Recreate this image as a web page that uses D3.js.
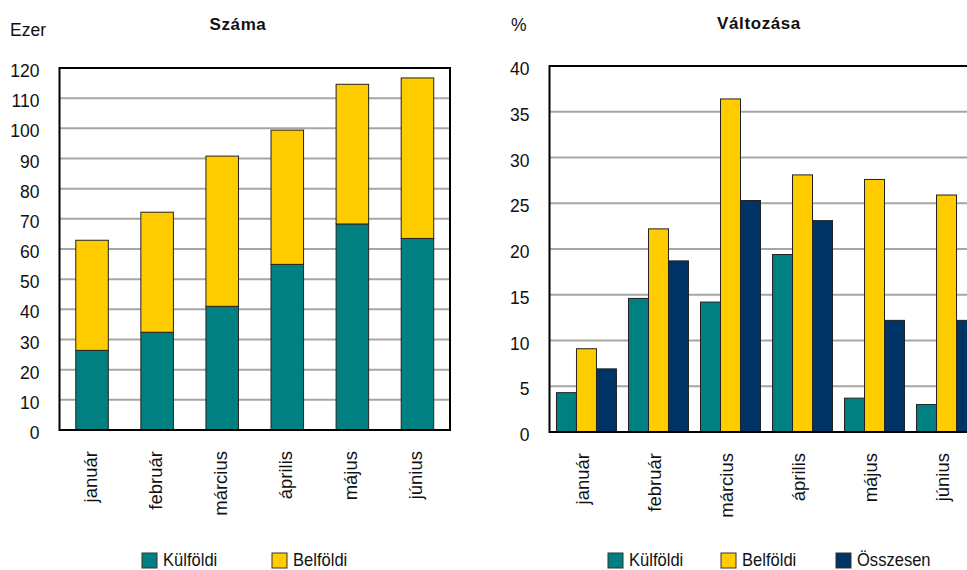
<!DOCTYPE html>
<html lang="hu">
<meta charset="utf-8"/>
<head>
<style>
  body { margin: 0; background: #fff; }
  svg text { font-family: "Liberation Sans", Arial, sans-serif; fill: #111; }
</style>
</head>
<body>
<svg id="container" width="967" height="570"></svg>

<script src="https://d3js.org/d3.v7.min.js"></script>
<script>
// data
let months = ["január", "február", "március", "április", "május", "június"]
let kulfoldiSzama = [26.4, 32.4, 41.0, 54.9, 68.3, 63.5]     // ezer
let belfoldiSzama = [36.5, 39.8, 49.8, 44.5, 46.3, 53.2]     // ezer
let kulfoldiValt = [4.3, 14.6, 14.2, 19.4, 3.7, 3.0]          // %
let belfoldiValt = [9.1, 22.2, 36.4, 28.1, 27.6, 25.9]        // %
let osszesenValt = [6.9, 18.7, 25.3, 23.1, 12.2, 12.2]        // %
let leftTicks = [0, 10, 20, 30, 40, 50, 60, 70, 80, 90, 100, 110, 120]
let rightTicks = [0, 5, 10, 15, 20, 25, 30, 35, 40]
let seriesLeft = ["Külföldi", "Belföldi"]
let seriesRight = ["Külföldi", "Belföldi", "Összesen"]

let color = d3.scaleOrdinal()
    .domain(seriesRight)
    .range(["#008080", "#FFCC00", "#003366"])

let svg = d3.select("svg")

function yAxis(g, y, ticks, left, right) {
    // gridlines
    g.append("g")
        .selectAll("line")
        .data(ticks)
        .enter()
        .append("line")
        .attr("x1", left).attr("x2", right)
        .attr("y1", d => y(d)).attr("y2", d => y(d))
        .attr("stroke", "#a6a6a6")
        .attr("stroke-width", 2)

    let ax = g.append("g")
        .attr("transform", "translate(" + left + ",0)")
        .call(d3.axisLeft(y).tickValues(ticks).tickSize(0).tickPadding(20))
    ax.select(".domain").remove()
    ax.selectAll("text")
        .attr("font-size", 17.5)
        .attr("font-family", "Liberation Sans, Arial, sans-serif")
        .attr("fill", "#111")
        .attr("y", 3)
}

function xAxis(g, x, bottom, shift) {
    let ax = g.append("g")
        .attr("transform", "translate(0," + bottom + ")")
        .call(d3.axisBottom(x).tickSize(0))
    ax.select(".domain").remove()
    ax.selectAll("text")
        .attr("font-size", 18.5)
        .attr("font-family", "Liberation Sans, Arial, sans-serif")
        .attr("fill", "#111")
        .attr("transform", "rotate(-90)")
        .attr("text-anchor", "end")
        .attr("x", -21)
        .attr("y", shift)
        .attr("dy", "0.35em")
}

function legend(g, names, x0, steps, y0) {
    let item = g.selectAll(null)
        .data(names)
        .enter()
        .append("g")
        .attr("transform", (d, i) => "translate(" + (x0 + steps[i]) + "," + y0 + ")")
    item.append("rect")
        .attr("width", 15).attr("height", 15)
        .attr("fill", d => color(d))
        .attr("stroke", "#333").attr("stroke-width", 1)
    item.append("text")
        .attr("transform", "translate(21,12.5) scale(0.92,1)")
        .attr("font-size", 18)
        .text(d => d)
}

// ---------- left: Száma (stacked) ----------
let L = { left: 59.5, right: 450, top: 68, bottom: 430 }
let gl = svg.append("g")

let xl = d3.scaleBand().domain(months).range([L.left, L.right]).paddingInner(0.5).paddingOuter(0.25)
let yl = d3.scaleLinear().domain([0, 120]).range([L.bottom, L.top])

yAxis(gl, yl, leftTicks, L.left, L.right)

let tableLeft = months.map((m, i) => ({ month: m, "Külföldi": kulfoldiSzama[i], "Belföldi": belfoldiSzama[i] }))
let stacked = d3.stack().keys(seriesLeft)(tableLeft)

gl.append("g")
    .selectAll("g")
    .data(stacked)
    .enter()
    .append("g")
    .attr("fill", d => color(d.key))
    .selectAll("rect")
    .data(d => d)
    .enter()
    .append("rect")
    .attr("x", d => xl(d.data.month))
    .attr("width", xl.bandwidth())
    .attr("y", d => yl(d[1]))
    .attr("height", d => yl(d[0]) - yl(d[1]))
    .attr("stroke", "#222")
    .attr("stroke-width", 1)

gl.append("rect")
    .attr("x", L.left).attr("y", L.top)
    .attr("width", L.right - L.left).attr("height", L.bottom - L.top)
    .attr("fill", "none").attr("stroke", "#000").attr("stroke-width", 2)

xAxis(gl, xl, L.bottom, -2)

gl.append("text").attr("x", 238).attr("y", 30).attr("text-anchor", "middle")
    .attr("font-size", 17).attr("font-weight", "bold").attr("letter-spacing", 0.6).text("Száma")
gl.append("text").attr("x", 10).attr("y", 36).attr("font-size", 17.5).text("Ezer")

legend(gl, seriesLeft, 142, [0, 130], 553)

// ---------- right: Változása (grouped) ----------
let R = { left: 549.5, right: 983.5, top: 66, bottom: 432 }
let gr = svg.append("g")

let xr = d3.scaleBand().domain(months).range([R.left, R.right]).paddingInner(0.167).paddingOuter(0.097)
let xs = d3.scaleBand().domain(seriesRight).range([0, xr.bandwidth()])
let yr = d3.scaleLinear().domain([0, 40]).range([R.bottom, R.top])

yAxis(gr, yr, rightTicks, R.left, R.right)

let tableRight = months.map((m, i) => ({ month: m, values: [
    { key: "Külföldi", value: kulfoldiValt[i] },
    { key: "Belföldi", value: belfoldiValt[i] },
    { key: "Összesen", value: osszesenValt[i] }] }))

gr.append("g")
    .selectAll("g")
    .data(tableRight)
    .enter()
    .append("g")
    .attr("transform", d => "translate(" + xr(d.month) + ",0)")
    .selectAll("rect")
    .data(d => d.values)
    .enter()
    .append("rect")
    .attr("x", d => xs(d.key))
    .attr("width", xs.bandwidth())
    .attr("y", d => yr(d.value))
    .attr("height", d => yr(0) - yr(d.value))
    .attr("fill", d => color(d.key))
    .attr("stroke", "#222")
    .attr("stroke-width", 1)

gr.append("rect")
    .attr("x", R.left).attr("y", R.top)
    .attr("width", R.right - R.left).attr("height", R.bottom - R.top)
    .attr("fill", "none").attr("stroke", "#000").attr("stroke-width", 2)

xAxis(gr, xr, R.bottom, -4)

gr.append("text").attr("x", 759).attr("y", 29).attr("text-anchor", "middle")
    .attr("font-size", 17).attr("font-weight", "bold").attr("letter-spacing", 0.6).text("Változása")
gr.append("text").attr("x", 511).attr("y", 31).attr("font-size", 17.5).text("%")

legend(gr, seriesRight, 608, [0, 113, 228], 553)
</script>
</body>
</html>
